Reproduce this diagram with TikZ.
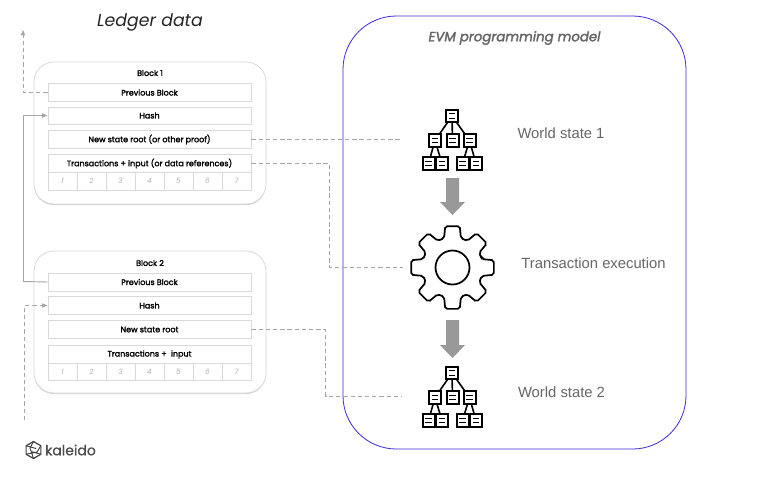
\documentclass[tikz,border=0pt]{standalone}
\usepackage{fontspec}
\setmainfont{Poppins}
\newfontfamily\rob{Liberation Sans}
\usetikzlibrary{shadows,arrows.meta,calc}
\definecolor{boxline}{HTML}{D9D9D9}
\definecolor{wire}{HTML}{A6A6A6}
\definecolor{numgray}{HTML}{B0B0B0}
\definecolor{panelblue}{HTML}{3A2BD8}
\definecolor{labelgray}{HTML}{666666}
\definecolor{arrowgray}{HTML}{999999}
\newcommand{\rowbox}[4]{\node[rowstyle,minimum height={#3*0.75pt}] (#1) at (149.5,#2) {#4};}
\newcommand{\cellrow}[3]{%
  \foreach \i [evaluate=\i as \cx using {48+29*(\i-0.5)}] in {1,...,7}{
    \node[cellstyle,minimum height={#3*0.75pt}] (#1\i) at (\cx,#2) {\i};}}
\tikzset{
  x=0.75pt,y=-0.75pt,
  blockstyle/.style={draw=boxline,line width=0.6pt,fill=white,rounded corners=15pt,minimum width={232*0.75pt},minimum height={142*0.75pt},inner sep=0pt,
     drop shadow={shadow xshift=0pt,shadow yshift=-0.8pt,opacity=0.18,fill=black}},
  rowstyle/.style={draw=boxline,line width=0.7pt,fill=white,minimum width={203*0.75pt},inner sep=0pt,font=\fontsize{6}{7}\selectfont\addfontfeature{FakeBold=2},text=black},
  cellstyle/.style={draw=boxline,line width=0.7pt,fill=white,minimum width={29*0.75pt},inner sep=0pt,font=\fontsize{5.5}{6}\selectfont\itshape,text=numgray},
  blocktitle/.style={inner sep=0pt,font=\fontsize{6}{7}\selectfont\addfontfeature{FakeBold=2},text=black},
  dashwire/.style={draw=wire,line width=0.55pt,dash pattern=on 3.2pt off 2.2pt},
  solidwire/.style={draw=wire,line width=0.7pt},
  tip/.style={-{Triangle[length=4pt,width=3.2pt,fill=wire]}},
  sidelabel/.style={inner sep=0pt,text=labelgray,font=\rob\fontsize{11.1}{13}\selectfont},
  icon/.style={draw=black,line width=1.5pt,fill=white},
  iconlink/.style={draw=black,line width=1.2pt},
  downarrow/.style={fill=arrowgray,draw=none},
  treebox/.pic={
    \draw[icon] (-6,-6.3) rectangle (6,6.3);
    \draw[draw=black,line width=1pt] (-3.4,-2.2) -- (3.4,-2.2) (-3.4,2.2) -- (3.4,2.2);
  },
}
\newcommand{\treeicon}[2]{%
  \begin{scope}[shift={(#1,#2)}]
    \draw[iconlink] (0,0) -- (-17,24.5) (0,0) -- (0.5,24.5) (0,0) -- (17.5,24.5)
      (-17,24.5) -- (-23.5,47.5) (-17,24.5) -- (-10,47.5) (17.5,24.5) -- (10.5,47.5) (17.5,24.5) -- (24,47.5);
    \foreach \p/\q in {0/0,-17/24.5,0.5/24.5,17.5/24.5,-23.5/47.5,-10/47.5,10.5/47.5,24/47.5}{
      \pic at (\p,\q) {treebox};}
  \end{scope}}
\newcommand{\downshape}[3]{% x, y top, y tip
  \fill[downarrow] (#1-6.5,#2) -- (#1+6.5,#2) -- (#1+6.5,#3-13) -- (#1+12.5,#3-13) -- (#1,#3) -- (#1-12.5,#3-13) -- (#1-6.5,#3-13) -- cycle;}
\begin{document}
\begin{tikzpicture}
\useasboundingbox (0,0) rectangle (768,476);
\fill[white] (0,0) rectangle (768,476);

% panel
\node[draw=panelblue,line width=0.6pt,fill=white,rounded corners=40pt,minimum width={343*0.75pt},minimum height={433*0.75pt},inner sep=0pt] (panel) at (514.5,232.5) {};
\node[inner sep=0pt,text=labelgray,font=\fontsize{10}{12}\selectfont\itshape\addfontfeature{FakeBold=2}] (evm) at (514.5,38) {EVM programming model};
\node[inner sep=0pt,text=black!85,font=\fontsize{13}{15}\selectfont\itshape] (ledger) at (150,22) {Ledger data};

% blocks
\node[blockstyle] (block1) at (150,133) {};
\node[blockstyle] (block2) at (150,322) {};
\node[blocktitle] (t1) at (150,73) {Block 1};
\node[blocktitle] (t2) at (150,263) {Block 2};

\rowbox{prev1}{92.5}{18}{Previous Block}
\rowbox{hash1}{115.5}{17}{Hash}
\rowbox{root1}{139.5}{18}{New state root (or other proof)}
\rowbox{tx1}{163.5}{18}{Transactions + input (or data references)}
\cellrow{a}{181}{18}
\rowbox{prev2}{282}{18}{Previous Block}
\rowbox{hash2}{305.5}{18}{Hash}
\rowbox{root2}{329.5}{18}{New state root}
\rowbox{tx2}{354.5}{18}{Transactions +\ \ input}
\cellrow{b}{372}{17}

% free ends
\coordinate (upend) at (23,30);
\coordinate (upcorner) at (23,92.5);
\coordinate (w1) at (401,139.5);
\coordinate (w2a) at (329.5,163.5);
\coordinate (w2b) at (329.5,267);
\coordinate (w2) at (403,267);
\coordinate (w3a) at (325.5,329.5);
\coordinate (w3b) at (325.5,396);
\coordinate (w3) at (402,396);
\coordinate (c1) at (23.5,281.5);
\coordinate (c2) at (23.5,115.5);
\coordinate (d1) at (24.5,420);
\coordinate (d2) at (24.5,305.5);

\draw[dashwire,tip] (prev1.west) -- (upcorner) -- (upend);
\draw[solidwire,tip] (prev2.west) -- (c1) -- (c2) -- (hash1.west);
\draw[dashwire,tip] (d1) -- (d2) -- (hash2.west);
\draw[dashwire] (root1.east) -- (w1);
\draw[dashwire] (tx1.east) -- (w2a) -- (w2b) -- (w2);
\draw[dashwire] (root2.east) -- (w3a) -- (w3b) -- (w3);

% world state icons
\treeicon{452}{116}
\treeicon{452}{373}
\downshape{452.5}{178}{215}
\downshape{452.5}{320}{358}

% gear
\begin{scope}[shift={(452.5,267.5)}]
  \draw[draw=black,line width=1.3pt,rounded corners=1.5pt,fill=white]
    (-16:30.5)
    \foreach \a in {0,45,...,315}{
      -- (\a-16:30.5) -- (\a-10:42) -- (\a+10:42) -- (\a+16:30.5)
    } -- cycle;
  \draw[draw=black,line width=1.3pt] (0,0) circle[radius=17];
\end{scope}

% side labels
\node[sidelabel] (ws1) at (561,133.5) {World state 1};
\node[sidelabel] (txe) at (593.5,263.5) {Transaction execution};
\node[sidelabel] (ws2) at (561.5,392) {World state 2};

% logo
\begin{scope}[shift={(33.5,450)}]
  \draw[draw=black!75,line width=0.9pt,line join=round] (90:8.5) -- (150:8.5) -- (210:8.5) -- (270:8.5) -- (330:8.5) -- (30:8.5) -- cycle;
  \draw[draw=black!75,line width=0.7pt] (150:8.5) -- (30:4) -- (330:8.5) (90:8.5) -- (210:4) -- (270:8.5) (210:8.5) -- (-30:3) (30:8.5) -- (150:3);
\end{scope}
\node[inner sep=0pt,text=black!70,font=\fontsize{10.5}{12}\selectfont\addfontfeature{FakeBold=0.5}] (logo) at (70.5,450) {kaleido};
\end{tikzpicture}
\end{document}
